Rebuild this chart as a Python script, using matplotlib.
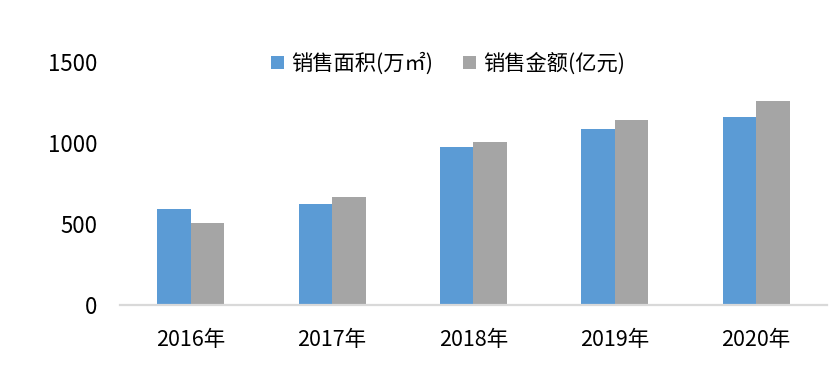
import matplotlib
matplotlib.use('Agg')
import matplotlib.pyplot as plt
import numpy as np

plt.rcParams['font.family'] = ['Noto Sans CJK SC', 'DejaVu Sans']

# chart data
years = ['2016年', '2017年', '2018年', '2019年', '2020年']
area = [594, 625, 977, 1088, 1163]      # 销售面积(万㎡)
amount = [507, 668, 1008, 1144, 1262]   # 销售金额(亿元)
series_names = ['销售面积(万㎡)', '销售金额(亿元)']
yticks = [0, 500, 1000, 1500]

blue = '#5B9BD5'
gray = '#A5A5A5'

fig = plt.figure(figsize=(8.36, 3.72), dpi=100)
ax = fig.add_axes([0.1435, 0.180, 0.8455, 0.652])

x = np.arange(len(years))
w = 0.237
b1 = ax.bar(x - w / 2, area, width=w, color=blue, label=series_names[0])
b2 = ax.bar(x + w / 2, amount, width=w, color=gray, label=series_names[1])

ax.set_xlim(-0.5, len(years) - 0.5)
ax.set_ylim(0, 1500)
ax.set_yticks(yticks)
ax.set_yticklabels([str(t) for t in yticks], fontsize=16)
ax.set_xticks(x)
ax.set_xticklabels(years, fontsize=15.5,
                   family=['Liberation Sans Narrow', 'Noto Sans CJK SC'])
ax.tick_params(axis='y', length=0, pad=16)
ax.tick_params(axis='x', length=0, pad=17)

for s in ['top', 'right', 'left']:
    ax.spines[s].set_visible(False)
ax.spines['bottom'].set_color('#D9D9D9')
ax.spines['bottom'].set_linewidth(1.6)

fig.legend(handles=[b1, b2], loc='center', bbox_to_anchor=(448 / 836, 1 - 64 / 372),
           ncol=2, frameon=False, fontsize=15.3, handlelength=0.6, handleheight=0.6,
           handletextpad=0.35, columnspacing=1.4, borderpad=0)

fig.savefig('out.png', dpi=100)
